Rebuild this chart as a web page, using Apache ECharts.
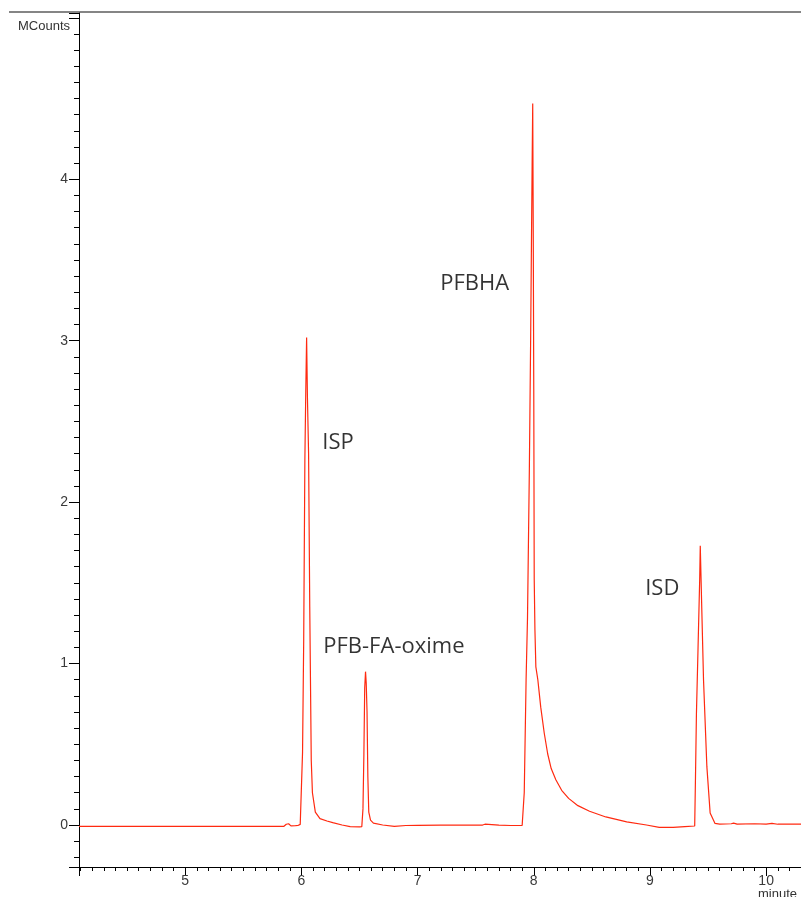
<!DOCTYPE html>
<html lang="en">
<head>
    <meta charset="UTF-8">
    <title>Chromatogram</title>
    <script src="https://cdn.jsdelivr.net/npm/echarts@6/dist/echarts.min.js"></script>
    <style>
        html, body { margin: 0; padding: 0; background: #fff; }
        #main { width: 801px; height: 897px; }
    </style>
</head>
<body>
<div id="main"></div>
<script>
    // retention time (minute) and signal (MCounts)
    const times = [
        4.086, 5.00, 5.85, 5.87, 5.89, 5.91, 5.95, 5.96, 5.97, 5.99, 6.00,
        // ISP
        6.004, 6.010, 6.020, 6.030, 6.038, 6.045, 6.052, 6.062, 6.072, 6.085, 6.095,
        6.12, 6.16, 6.22, 6.27, 6.35, 6.42, 6.50, 6.52,
        // PFB-FA-oxime
        6.530, 6.538, 6.545, 6.552, 6.558, 6.565, 6.572, 6.580, 6.595, 6.62,
        6.70, 6.80, 6.90, 7.00, 7.20, 7.50, 7.56, 7.565, 7.58, 7.70, 7.80, 7.90,
        // PFBHA
        7.912, 7.918, 7.934, 7.946, 7.962, 7.973, 7.980, 7.986, 7.991, 7.996,
        8.000, 8.004, 8.010, 8.018, 8.035, 8.060, 8.090, 8.12, 8.15, 8.19,
        8.24, 8.30, 8.38, 8.48, 8.62, 8.80, 8.97, 9.08, 9.20, 9.30, 9.385,
        // ISD
        9.392, 9.400, 9.414, 9.428, 9.433, 9.440, 9.447, 9.461, 9.490, 9.518,
        9.56, 9.60, 9.70, 9.72, 9.75, 9.90, 10.00, 10.05, 10.10, 10.30
    ];
    const counts = [
        -0.008, -0.008, -0.008, 0.005, 0.008, -0.005, -0.004, 0.006, -0.003, 0.004, -0.005,
        0.0, 0.45, 1.15, 2.26, 2.70, 3.02, 2.65, 2.30, 1.35, 0.40, 0.20,
        0.08, 0.04, 0.025, 0.015, 0.0, -0.01, -0.012, -0.01,
        0.10, 0.44, 0.85, 0.95, 0.88, 0.70, 0.30, 0.08, 0.03, 0.012,
        0.0, -0.008, -0.003, -0.002, 0.0, 0.0, 0.0, 0.012, 0.005, 0.0, -0.003, -0.003,
        -0.005, 0.20, 0.90, 1.28, 2.20, 3.00, 3.60, 4.09, 4.47, 3.58,
        2.70, 1.52, 1.21, 0.98, 0.90, 0.73, 0.57, 0.44, 0.35, 0.28,
        0.215, 0.165, 0.12, 0.085, 0.05, 0.02, 0.0, -0.015, -0.015, -0.01, -0.006,
        0.30, 0.69, 1.10, 1.52, 1.73, 1.52, 1.31, 0.90, 0.36, 0.074,
        0.01, 0.006, 0.008, 0.012, 0.006, 0.008, 0.006, 0.01, 0.005, 0.006
    ];

    // peak names and where their text starts
    const peakNames = ['ISP', 'PFB-FA-oxime', 'PFBHA', 'ISD'];
    const peakLabelTimes = [6.18, 6.188, 7.195, 8.959];
    const peakLabelCounts = [2.365, 1.102, 3.356, 1.461];

    const chart = echarts.init(document.getElementById('main'), null, {renderer: 'canvas'});

    const trace = times.map((t, i) => [t, counts[i]]);
    const labels = peakNames.map((n, i) => ({name: n, value: [peakLabelTimes[i], peakLabelCounts[i]]}));

    const axisFont = {
        fontFamily: 'Liberation Sans, Arial, sans-serif',
        fontSize: 14,
        color: '#3a3a3a'
    };

    chart.setOption({
        animation: false,
        backgroundColor: '#fff',
        grid: {left: 79, right: 0, top: 13, bottom: 30},
        xAxis: {
            type: 'value',
            min: 4.086,
            max: 10.3,
            splitNumber: 6,
            axisLine: {show: true, onZero: false, lineStyle: {color: '#000', width: 1}},
            axisTick: {show: true, length: 9, lineStyle: {color: '#000'}},
            minorTick: {show: true, splitNumber: 10, length: 4, lineStyle: {color: '#000'}},
            splitLine: {show: false},
            axisLabel: Object.assign({margin: 7, showMinLabel: false, showMaxLabel: false}, axisFont)
        },
        yAxis: {
            type: 'value',
            min: -0.26,
            max: 5.03,
            splitNumber: 5,
            axisLine: {show: true, onZero: false, lineStyle: {color: '#000', width: 1}},
            axisTick: {show: true, length: 10, lineStyle: {color: '#000'}},
            minorTick: {show: true, splitNumber: 10, length: 5, lineStyle: {color: '#000'}},
            splitLine: {show: false},
            axisLabel: Object.assign({
                margin: 11,
                showMinLabel: false,
                showMaxLabel: false,
                formatter: v => (v > 4.5 ? '' : String(v))
            }, axisFont)
        },
        graphic: [
            {
                type: 'line',
                shape: {x1: 9, y1: 12, x2: 801, y2: 12},
                style: {stroke: '#858585', lineWidth: 2}
            },
            {
                type: 'text',
                left: 18, top: 20,
                style: {text: 'MCounts', font: '13px "Liberation Sans", Arial, sans-serif', fill: '#333'}
            },
            {
                type: 'text',
                left: 758, top: 888,
                style: {text: 'minute', font: '13px "Liberation Sans", Arial, sans-serif', fill: '#333'}
            }
        ],
        series: [
            {
                type: 'line',
                data: trace,
                showSymbol: false,
                symbol: 'none',
                clip: true,
                lineStyle: {color: '#ff2a10', width: 1.2},
                z: 3
            },
            {
                type: 'scatter',
                data: labels,
                symbolSize: 0,
                silent: true,
                label: {
                    show: true,
                    position: 'right',
                    distance: 0,
                    formatter: p => p.name,
                    fontFamily: 'Open Sans, Noto Sans, sans-serif',
                    fontSize: 22,
                    color: '#000'
                },
                z: 4
            }
        ]
    });
</script>
</body>
</html>
